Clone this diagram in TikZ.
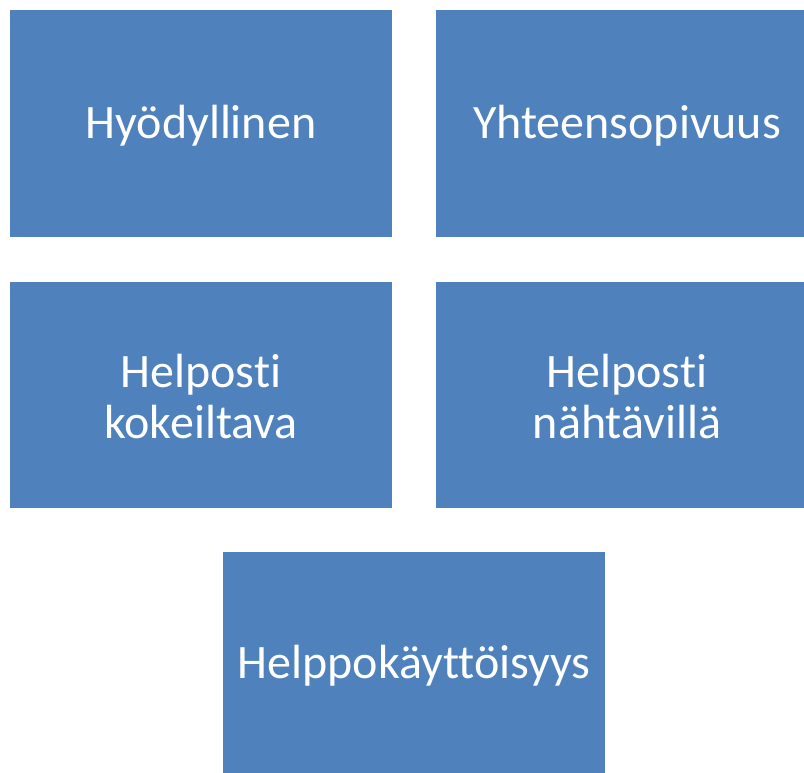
\documentclass[tikz,border=0pt]{standalone}
\usepackage{fontspec}
\setmainfont[Ligatures=NoCommon]{Carlito}
\definecolor{boxblue}{HTML}{4F81BD}
\begin{document}
\begin{tikzpicture}[x=1pt,y=-1pt,
  box/.style={fill=boxblue,draw=none,inner sep=0pt,text=white,align=center,
    yshift=-2pt,font=\fontsize{48}{51}\selectfont}]
\useasboundingbox (0,0) rectangle (804,773);
\clip (0,0) rectangle (804,773);
\fill[boxblue] (10,10) rectangle (392,237) node[midway,box] (a) {Hyödyllinen};
\fill[boxblue] (436,10) rectangle (818,237) node[midway,box] (b) {Yhteensopivuus};
\fill[boxblue] (10,282) rectangle (392,508) node[midway,box] (c) {Helposti\\kokeiltava};
\fill[boxblue] (436,282) rectangle (818,508) node[midway,box] (d) {Helposti\\nähtävillä};
\fill[boxblue] (223,552) rectangle (605,775) node[midway,box] (e) {Helppokäyttöisyys};
\end{tikzpicture}
\end{document}
